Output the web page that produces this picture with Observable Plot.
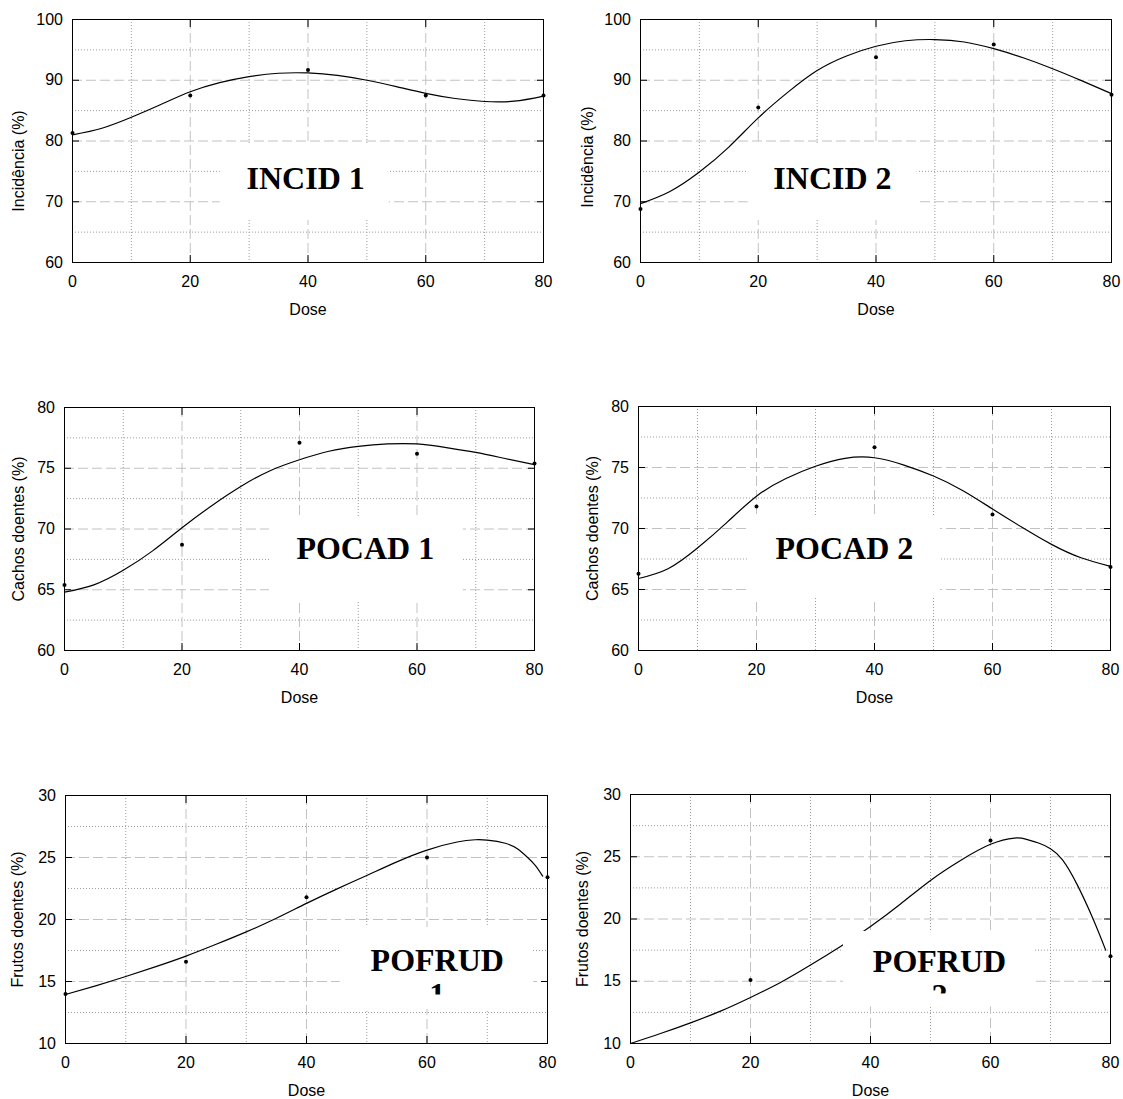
<!DOCTYPE html>
<html>
<head>
<meta charset="utf-8">
<script src="https://cdn.jsdelivr.net/npm/d3@7"></script>
<script src="https://cdn.jsdelivr.net/npm/@observablehq/plot@0.6"></script>
<style>
  html, body { margin: 0; padding: 0; background: #fff; }
  #root { position: relative; width: 1123px; height: 1099px; background: #fff; overflow: hidden; }
  .panel { position: absolute; }
</style>
</head>
<body>
<div id="root"></div>
<script>
// ---------- data ----------
const doses = [0, 20, 40, 60, 80];

// observed points
const incid1  = [81.3, 87.5, 91.7, 87.5, 87.5];
const incid2  = [68.8, 85.5, 93.8, 95.9, 87.6];
const pocad1  = [65.4, 68.7, 77.1, 76.2, 75.4];
const pocad2  = [66.3, 71.8, 76.65, 71.15, 66.85];
const pofrud1 = [14.0, 16.6, 21.8, 25.0, 23.4];
const pofrud2 = [null, 15.1, null, 26.3, 17.0]; // 0 and 40 not visible in the picture

// fitted curves
const fitDose = [0, 5, 10, 15, 20, 25, 30, 35, 40, 45, 50, 55, 60, 65, 70, 75, 80];
const fitIncid1 = [81.0, 82.1, 83.9, 86.0, 88.1, 89.6, 90.6, 91.15, 91.2, 90.8, 90.0, 88.95, 87.85, 87.0, 86.5, 86.55, 87.4];
const fitIncid2 = [69.7, 71.7, 74.9, 79.0, 83.8, 88.0, 91.6, 94.0, 95.6, 96.5, 96.7, 96.3, 95.2, 93.7, 91.9, 89.9, 87.8];
const fitPocad1 = [64.8, 65.4, 66.6, 68.2, 70.1, 71.9, 73.5, 74.8, 75.7, 76.4, 76.8, 77.0, 77.0, 76.7, 76.3, 75.8, 75.3];
const fitPocad2 = [65.9, 66.7, 68.4, 70.5, 72.65, 74.1, 75.1, 75.75, 75.8, 75.2, 74.3, 73.1, 71.6, 70.1, 68.7, 67.6, 66.9];
const fitDose5   = [0, 5, 10, 15, 20, 25, 30, 35, 40, 45, 50, 55, 60, 65, 68, 70, 73, 75, 76.7, 78, 79.2];
const fitPofrud1 = [13.95, 14.65, 15.4, 16.2, 17.05, 18.0, 19.0, 20.1, 21.3, 22.45, 23.55, 24.65, 25.6, 26.25, 26.43, 26.4, 26.15, 25.7, 25.0, 24.35, 23.5];
const fitDose6   = [0, 5, 10, 15, 20, 25, 30, 35, 40, 45, 50, 55, 60, 64, 66, 68, 70, 72, 74.4, 77.1, 79.2];
const fitPofrud2 = [10.0, 10.8, 11.66, 12.6, 13.7, 14.9, 16.3, 17.8, 19.4, 21.2, 23.1, 24.7, 26.0, 26.5, 26.4, 26.1, 25.65, 24.75, 22.8, 20.0, 17.5];

// axis ticks and labels
const xTicks = [0, 20, 40, 60, 80];
const xMinor = [10, 30, 50, 70];
const xLabel = "Dose";
const yTicksIncid = [60, 70, 80, 90, 100];
const yMinorIncid = [65, 75, 85, 95];
const yTicksPocad = [60, 65, 70, 75, 80];
const yMinorPocad = [62.5, 67.5, 72.5, 77.5];
const yTicksPofrud = [10, 15, 20, 25, 30];
const yMinorPofrud = [12.5, 17.5, 22.5, 27.5];
const yLabels = ["Incidência (%)", "Cachos doentes (%)", "Frutos doentes (%)"];
const panelTitles = ["INCID 1", "INCID 2", "POCAD 1", "POCAD 2", "POFRUD\n1", "POFRUD\n2"];

// ---------- layout (page pixels) and label placement ----------
const panels = [
  { left: 0,   top: 0,   width: 560, height: 330, frame: [72, 543, 19, 262],
    obs: incid1, fitX: fitDose, fit: fitIncid1, yTicks: yTicksIncid, yMinor: yMinorIncid, yLabel: yLabels[0],
    yLabelDx: -54, yLabelDy: 20, title: panelTitles[0],
    box: [25.1, 53.8, 66.9, 79.6], titlePos: [39.6, 72.1], cover: null },
  { left: 562, top: 0,   width: 561, height: 330, frame: [640, 1111, 19, 262],
    obs: incid2, fitX: fitDose, fit: fitIncid2, yTicks: yTicksIncid, yMinor: yMinorIncid, yLabel: yLabels[0],
    yLabelDx: -53, yLabelDy: 16, title: panelTitles[1],
    box: [18.3, 47.0, 66.9, 79.6], titlePos: [32.6, 72.1], cover: null },
  { left: 0,   top: 380, width: 560, height: 340, frame: [64, 534, 407, 650],
    obs: pocad1, fitX: fitDose, fit: fitPocad1, yTicks: yTicksPocad, yMinor: yMinorPocad, yLabel: yLabels[1],
    yLabelDx: -46, yLabelDy: 0, title: panelTitles[2],
    box: [34.9, 67.9, 64.1, 70.95], titlePos: [51.2, 67.55], cover: null },
  { left: 562, top: 380, width: 561, height: 340, frame: [638, 1110, 406, 650],
    obs: pocad2, fitX: fitDose, fit: fitPocad2, yTicks: yTicksPocad, yMinor: yMinorPocad, yLabel: yLabels[1],
    yLabelDx: -46, yLabelDy: 0, title: panelTitles[3],
    box: [18.6, 51.2, 64.26, 70.9], titlePos: [34.9, 67.5], cover: null },
  { left: 0,   top: 770, width: 560, height: 329, frame: [65, 547, 795, 1043],
    obs: pofrud1, fitX: fitDose5, fit: fitPofrud1, yTicks: yTicksPofrud, yMinor: yMinorPofrud, yLabel: yLabels[2],
    yLabelDx: -48, yLabelDy: 0, title: panelTitles[4],
    box: [45.6, 77.7, 12.74, 19.35], titlePos: [61.7, 13.1], cover: [12.74, 13.91] },
  { left: 562, top: 770, width: 561, height: 329, frame: [630, 1110, 794, 1043],
    obs: pofrud2, fitX: fitDose6, fit: fitPofrud2, yTicks: yTicksPofrud, yMinor: yMinorPofrud, yLabel: yLabels[2],
    yLabelDx: -48, yLabelDy: 0, title: panelTitles[5],
    box: [35.5, 67.5, 12.95, 19.0], titlePos: [51.5, 13.0], cover: [12.95, 13.98] }
];

const sans = "'Liberation Sans', Arial, Helvetica, sans-serif";
const serif = "'Liberation Serif', 'Times New Roman', Times, serif";
const root = document.getElementById("root");

for (const p of panels) {
  const [L, R, T, B] = p.frame;
  const yDomain = [p.yTicks[0], p.yTicks[p.yTicks.length - 1]];
  const obsData = doses.map((d, i) => ({x: d, y: p.obs[i]})).filter(d => d.y != null);
  const fitData = p.fitX.map((d, i) => ({x: d, y: p.fit[i]}));
  const yMajorGrid = p.yTicks.slice(1, -1);
  const xMajorGrid = xTicks.slice(1, -1);
  const marks = [
    Plot.gridX(xMinor, {stroke: "#9c9c9c", strokeOpacity: 1, strokeDasharray: "1,2"}),
    Plot.gridY(p.yMinor, {stroke: "#9c9c9c", strokeOpacity: 1, strokeDasharray: "1,2"}),
    Plot.gridX(xMajorGrid, {stroke: "#c2c2c2", strokeOpacity: 1, strokeDasharray: "10,4"}),
    Plot.gridY(yMajorGrid, {stroke: "#c2c2c2", strokeOpacity: 1, strokeDasharray: "10,4"}),
    Plot.line(fitData, {x: "x", y: "y", curve: "natural", stroke: "black", strokeWidth: 1.2}),
    Plot.dot(obsData, {x: "x", y: "y", r: 2, fill: "black", stroke: "none"}),
    Plot.rect([p.box], {x1: d => d[0], x2: d => d[1], y1: d => d[2], y2: d => d[3], fill: "white"}),
    Plot.text([p.title], {x: () => p.titlePos[0], y: () => p.titlePos[1], text: d => d,
      fontFamily: serif, fontWeight: "bold", fontSize: 32, lineAnchor: "bottom", lineHeight: 1.08,
      textAnchor: "middle", fill: "black"})
  ];
  if (p.cover) {
    marks.push(Plot.rect([p.cover], {x1: () => p.box[0], x2: () => p.box[1], y1: d => d[0], y2: d => d[1], fill: "white"}));
  }
  marks.push(
    Plot.frame({stroke: "black", strokeWidth: 1}),
    Plot.axisX(xTicks, {anchor: "bottom", tickSize: -7, tickPadding: 20, label: null, fontSize: 16, fill: "black", stroke: "black"}),
    Plot.axisX(xTicks, {anchor: "top", tickSize: -7, tickFormat: () => "", label: null, stroke: "black"}),
    Plot.axisY(p.yTicks, {anchor: "left", tickSize: -7, tickPadding: 16.5, label: null, fontSize: 16, fill: "black", stroke: "black"}),
    Plot.axisY(p.yTicks, {anchor: "right", tickSize: -7, tickFormat: () => "", label: null, stroke: "black"}),
    Plot.text([xLabel], {frameAnchor: "bottom", dy: 47, text: d => d, lineAnchor: "middle", fontSize: 16, fill: "black"}),
    Plot.text([p.yLabel], {frameAnchor: "left", dx: p.yLabelDx, dy: p.yLabelDy, rotate: -90, text: d => d,
      lineAnchor: "middle", textAnchor: "middle", fontSize: 16, fill: "black"})
  );
  const chart = Plot.plot({
    width: p.width,
    height: p.height,
    marginLeft: L - p.left,
    marginRight: p.left + p.width - R,
    marginTop: T - p.top,
    marginBottom: p.top + p.height - B,
    x: {domain: [0, 80]},
    y: {domain: yDomain},
    style: {fontFamily: sans, fontSize: "16px", background: "transparent", color: "black", overflow: "visible"},
    marks
  });
  const div = document.createElement("div");
  div.className = "panel";
  div.style.left = p.left + "px";
  div.style.top = p.top + "px";
  div.appendChild(chart);
  root.appendChild(div);
}
</script>
</body>
</html>
